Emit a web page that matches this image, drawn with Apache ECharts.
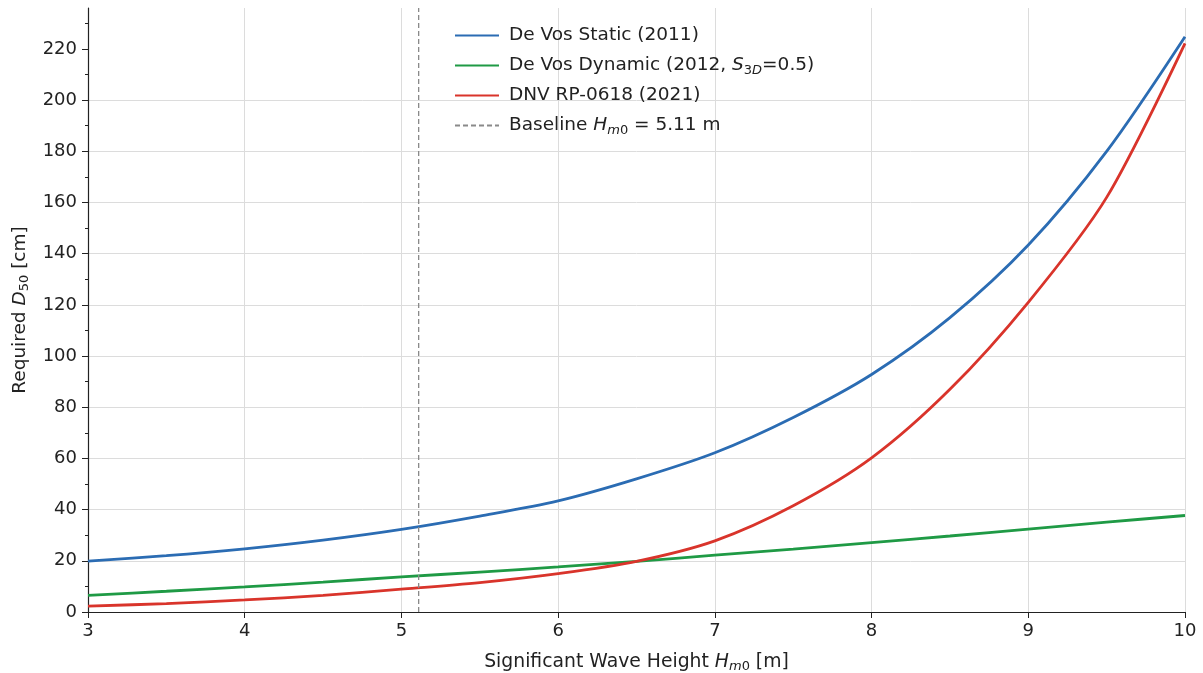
<html>
<head>
<meta charset="utf-8">
<title>Required D50</title>
</head>
<body style="margin:0">
<div id="main" style="width:1203px;height:673px;"></div>
<script src="https://cdn.jsdelivr.net/npm/echarts@6/dist/echarts.min.js"></script>
<script>
// wave height samples [m]
var hm0 = [3, 3.5, 4, 4.5, 5, 5.5, 6, 6.5, 7, 7.5, 8, 8.5, 9, 9.5, 10];
// required D50 [cm]
var deVosStatic = [19.9, 22.0, 24.7, 28.1, 32.3, 37.5, 43.4, 52.0, 62.2, 76.0, 92.8, 115, 143.4, 180, 224.8];
var deVosDynamic = [6.5, 8.1, 9.8, 11.7, 13.7, 15.6, 17.6, 19.8, 22.2, 24.6, 27.1, 29.7, 32.4, 35.1, 37.7];
var dnv = [2.3, 3.3, 4.7, 6.5, 8.9, 11.5, 15.0, 19.8, 27.8, 41.5, 60.2, 87, 121, 162, 222.2];
var baseline = 5.11;
var yTicks = [0, 20, 40, 60, 80, 100, 120, 140, 160, 180, 200, 220];

function pairs(xs, ys) {
    return xs.map(function (x, i) { return [x, ys[i]]; });
}

var names = ['De Vos Static (2011)', 'De Vos Dynamic (2012)', 'DNV RP-0618 (2021)', 'Baseline'];
var legendText = {
    'De Vos Static (2011)': '{n|De Vos Static (2011)}',
    'De Vos Dynamic (2012)': '{n|De Vos Dynamic (2012, }{i|S}{su|3}{s|D}{n|=0.5)}',
    'DNV RP-0618 (2021)': '{n|DNV RP-0618 (2021)}',
    'Baseline': '{n|Baseline }{i|H}{s|m}{su|0}{n| = 5.11 m}'
};

var chart = echarts.init(document.getElementById('main'));
var font = 'DejaVu Sans';

function rich(size) {
    var sub = Math.round(size * 0.7);
    return {
        n: {fontSize: size, color: '#222', fontFamily: font, lineHeight: 22},
        i: {fontSize: size, color: '#222', fontStyle: 'italic', fontFamily: font, lineHeight: 22},
        s: {fontSize: sub, color: '#222', fontStyle: 'italic', fontFamily: font, padding: [10, 0, 0, 0], lineHeight: 12},
        su: {fontSize: sub, color: '#222', fontFamily: font, padding: [10, 0, 0, 0], lineHeight: 12}
    };
}

var option = {
    animation: false,
    textStyle: {fontFamily: font},
    grid: {left: 88, right: 18, top: 8, bottom: 61, outerBoundsMode: 'none'},
    legend: {
        orient: 'vertical',
        left: 449,
        top: 21,
        itemWidth: 44,
        itemHeight: 14,
        itemGap: 9,
        data: names,
        itemStyle: {opacity: 0},
        formatter: function (name) { return legendText[name]; },
        textStyle: {fontFamily: font, rich: rich(18.5), padding: [0, 0, 0, 5]}
    },
    xAxis: {
        type: 'value',
        min: 3,
        max: 10,
        interval: 1,
        name: '{n|Significant Wave Height }{i|H}{s|m}{su|0}{n| [m]}',
        nameLocation: 'middle',
        nameGap: 39,
        nameTextStyle: {rich: rich(18.8)},
        axisLine: {lineStyle: {color: '#222', width: 1.2}},
        axisTick: {length: 6, lineStyle: {color: '#222'}},
        axisLabel: {fontSize: 18, color: '#222', margin: 10, fontFamily: font},
        splitLine: {show: true, lineStyle: {color: '#dcdcdc', width: 1}}
    },
    yAxis: {
        type: 'value',
        min: 0,
        max: 236,
        interval: 20,
        name: '{n|Required }{i|D}{su|50}{n| [cm]}',
        nameLocation: 'middle',
        nameRotate: 90,
        nameGap: 57,
        nameTextStyle: {rich: rich(18.5)},
        axisLine: {show: true, lineStyle: {color: '#222', width: 1.2}},
        axisTick: {show: true, length: 6, lineStyle: {color: '#222'}, customValues: yTicks},
        minorTick: {show: true, splitNumber: 2, length: 3, lineStyle: {color: '#222'}},
        axisLabel: {fontSize: 18, color: '#222', margin: 11, fontFamily: font, customValues: yTicks},
        splitLine: {show: true, showMaxLine: false, lineStyle: {color: '#dcdcdc', width: 1}}
    },
    series: [
        {
            name: names[0], type: 'line', smooth: 0.3, symbol: 'none',
            data: pairs(hm0, deVosStatic),
            lineStyle: {color: '#2b6cb3', width: 2.8}, itemStyle: {color: '#2b6cb3'}
        },
        {
            name: names[1], type: 'line', smooth: 0.3, symbol: 'none',
            data: pairs(hm0, deVosDynamic),
            lineStyle: {color: '#1f9a45', width: 2.8}, itemStyle: {color: '#1f9a45'}
        },
        {
            name: names[2], type: 'line', smooth: 0.3, symbol: 'none',
            data: pairs(hm0, dnv),
            lineStyle: {color: '#d9342b', width: 2.8}, itemStyle: {color: '#d9342b'}
        },
        {
            name: names[3], type: 'line', symbol: 'none',
            data: [[baseline, 0], [baseline, 236]],
            lineStyle: {color: '#8a8a8a', width: 1.3, type: [5, 3]}, itemStyle: {color: '#8a8a8a'}
        }
    ]
};

chart.setOption(option);
</script>
</body>
</html>
